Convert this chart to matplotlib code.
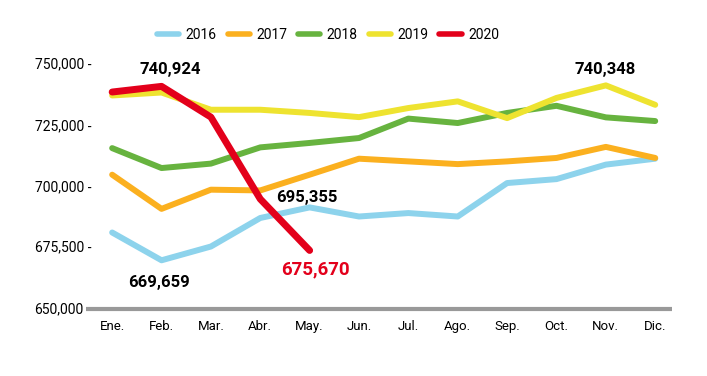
import matplotlib
matplotlib.use("Agg")
import matplotlib.pyplot as plt

months = ["Ene.", "Feb.", "Mar.", "Abr.", "May.", "Jun.", "Jul.", "Ago.", "Sep.", "Oct.", "Nov.", "Dic."]
s2016 = [681.1, 669.8, 675.4, 687.0, 691.3, 687.6, 689.0, 687.6, 701.2, 702.8, 708.7, 711.1]
s2017 = [704.6, 690.7, 698.5, 698.2, 704.6, 711.1, 710.0, 708.9, 710.0, 711.4, 715.9, 711.4]
s2018 = [715.4, 707.3, 709.1, 715.7, 717.5, 719.5, 727.4, 725.6, 729.7, 732.6, 727.9, 726.4]
s2019 = [736.8, 738.0, 731.0, 731.0, 729.7, 728.0, 731.7, 734.4, 727.6, 735.8, 740.9, 733.0]
s2020 = [738.2, 740.5, 728.0, 694.7, 673.8]
series_names = ["2016", "2017", "2018", "2019", "2020"]
colors = ["#8DD3EC", "#FBB01F", "#67B33F", "#EEE330", "#E3001B"]

yticks = [650, 675.5, 700, 725, 750]
ytick_labels = ["", "675,500 -", "700,000 -", "725,000 -", "750,000 -"]
base_label = "650,000"

ann_text = ["740,924", "669,659", "695,355", "675,670", "740,348"]
ann_x = [1.17, 0.95, 3.95, 4.11, 9.98]
ann_y = [747.3, 660.7, 695.2, 666.0, 747.3]
ann_col = ["black", "black", "black", "#E3001B", "black"]
ann_size = [12, 12, 12, 13.5, 12]

plt.rcParams['font.family'] = ['Roboto', 'DejaVu Sans']

fig = plt.figure(figsize=(7.07, 3.76), dpi=100)
ax = fig.add_axes([86/707, 1 - 309/376, (672 - 86)/707, (309 - 63)/376])

data = [s2016, s2017, s2018, s2019, s2020]
handles = []
for name, vals, c in zip(series_names, data, colors):
    x = list(range(len(vals)))
    lw = 5.0 if name == "2020" else 4.3
    h, = ax.plot(x, vals, color=c, lw=lw, solid_capstyle='round', solid_joinstyle='round',
                 label=name, zorder=5 if name == "2020" else 3)
    handles.append(h)

ax.set_xlim(-0.53, 11.34)
ax.set_ylim(650, 750)
ax.set_xticks(range(12))
ax.set_xticklabels(months, fontsize=9.5)
ax.set_yticks(yticks)
ax.set_yticklabels(ytick_labels, fontsize=10)
ax.tick_params(axis='x', length=0, pad=8)
ax.tick_params(axis='y', length=0, pad=-4)
for s in ["top", "right", "left"]:
    ax.spines[s].set_visible(False)
ax.spines["bottom"].set_color("#999999")
ax.spines["bottom"].set_linewidth(3)
ax.spines["bottom"].set_capstyle('butt')

fig.text(83/707, 1 - 309/376, base_label, fontsize=10, ha='right', va='center')

for t, x, y, c, fs in zip(ann_text, ann_x, ann_y, ann_col, ann_size):
    ax.text(x, y, t, color=c, fontsize=fs, fontweight='bold', ha='center', va='center', clip_on=False)

leg = fig.legend(handles=handles, loc='center', bbox_to_anchor=(328/707, 1 - 35/376), ncol=5,
                 frameon=False, fontsize=10, handlelength=1.6, handletextpad=0.45, columnspacing=0.8)
for lh in leg.get_lines():
    lh.set_linewidth(4)
    lh.set_solid_capstyle('round')

fig.savefig("out.png", dpi=100)
